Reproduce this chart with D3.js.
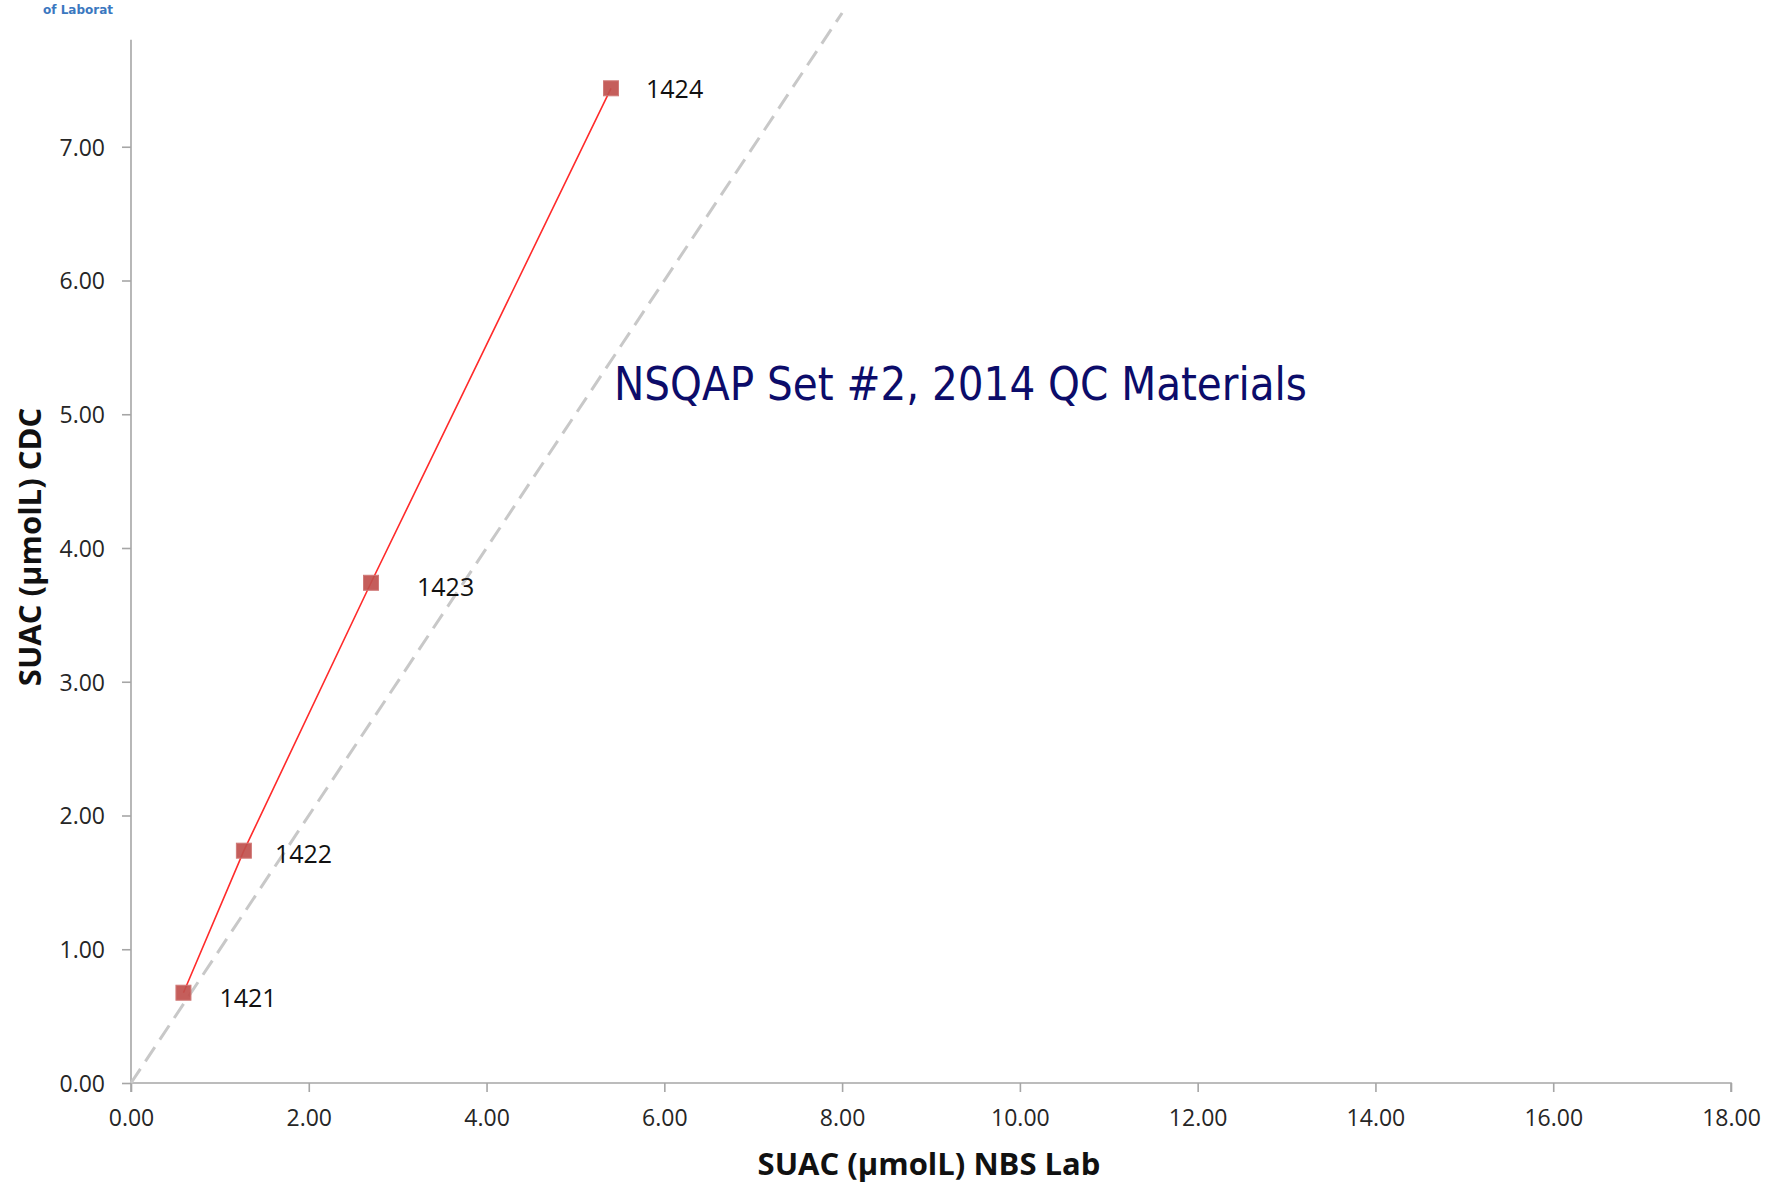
<!DOCTYPE html>
<html>
<head>
<meta charset="utf-8">
<script src="https://cdn.jsdelivr.net/npm/d3@7"></script>
<style>
  html, body { margin: 0; padding: 0; background: #fff; }
  svg { display: block; }
</style>
</head>
<body>
<svg id="chart" width="1785" height="1185"></svg>
<script>
// QC material identifiers and their SUAC results (µmol/L)
const samples = ["1421", "1422", "1423", "1424"];
const nbsLab  = [0.59, 1.27, 2.70, 5.40];   // x: NBS laboratory
const cdc     = [0.675, 1.737, 3.740, 7.437]; // y: CDC

// Axis tick values
const xTicks = [0, 2, 4, 6, 8, 10, 12, 14, 16, 18];
const yTicks = [0, 1, 2, 3, 4, 5, 6, 7];

// Line of identity (y = x)
const identity = [0, 8];

(function draw() {
  const svg = d3.select("#chart");
  const plotLeft = 131, plotRight = 1731, plotBottom = 1083, plotTop = 13;

  const x = d3.scaleLinear().domain([0, 18]).range([plotLeft, plotRight]);
  const y = d3.scaleLinear().domain([0, 8]).range([plotBottom, plotTop]);

  const axisColor = "#a6a6a6";
  const tickFont = "'Open Sans', 'Noto Sans', sans-serif";

  // Logo wording at the top left corner
  svg.append("text")
    .attr("x", 78).attr("y", 14)
    .attr("text-anchor", "middle")
    .attr("font-family", "'DejaVu Sans', sans-serif")
    .attr("font-weight", "bold")
    .attr("font-size", 12)
    .attr("fill", "#3b78c0")
    .text("of Laborat");

  // X axis
  const xAxis = d3.axisBottom(x).tickValues(xTicks).tickSize(9).tickFormat(d3.format(".2f"));
  const gx = svg.append("g").attr("transform", `translate(0,${plotBottom})`).call(xAxis);
  gx.select(".domain").attr("stroke", axisColor).attr("stroke-width", 1.6)
    .attr("d", `M${plotLeft},9V0H${plotRight}V9`);
  gx.selectAll(".tick line").attr("stroke", axisColor).attr("stroke-width", 1.6);
  gx.selectAll(".tick text")
    .attr("y", 27).attr("dy", "0.71em")
    .attr("font-family", tickFont).attr("font-size", 23).attr("fill", "#262626");

  // Y axis (visible portion stops a little below the top of the frame)
  const yAxisTop = 7.8;
  const yAxis = d3.axisLeft(y).tickValues(yTicks).tickSize(9).tickFormat(d3.format(".2f"));
  const gy = svg.append("g").attr("transform", `translate(${plotLeft},0)`).call(yAxis);
  gy.select(".domain").attr("stroke", axisColor).attr("stroke-width", 1.6)
    .attr("d", `M0,${y(yAxisTop)}V${y(0)}`);
  gy.selectAll(".tick line").attr("stroke", axisColor).attr("stroke-width", 1.6);
  gy.selectAll(".tick text")
    .attr("x", -26).attr("dy", "0.36em")
    .attr("font-family", tickFont).attr("font-size", 23).attr("fill", "#262626");

  // Dashed identity line
  svg.append("line")
    .attr("x1", x(identity[0])).attr("y1", y(identity[0]))
    .attr("x2", x(identity[1])).attr("y2", y(identity[1]))
    .attr("stroke", "#c8c8c8").attr("stroke-width", 3)
    .attr("stroke-dasharray", "17,9");

  // Series line connecting the QC results
  const pts = samples.map((s, i) => ({ s, x: nbsLab[i], y: cdc[i] }));
  svg.append("path")
    .datum(pts)
    .attr("fill", "none")
    .attr("stroke", "#ff2b2b")
    .attr("stroke-width", 1.6)
    .attr("d", d3.line().x(d => x(d.x)).y(d => y(d.y)));

  // Square markers
  const m = 15;
  svg.selectAll("rect.pt").data(pts).enter().append("rect")
    .attr("class", "pt")
    .attr("x", d => x(d.x) - m / 2).attr("y", d => y(d.y) - m / 2)
    .attr("width", m).attr("height", m)
    .attr("fill", "#c0504d").attr("fill-opacity", 0.92)
    .attr("stroke", "#d07a78").attr("stroke-width", 1);

  // Data labels to the right of each marker
  const labelShift = { "1421": [36, 14], "1422": [31, 12], "1423": [46, 13], "1424": [35, 10] };
  svg.selectAll("text.lbl").data(pts).enter().append("text")
    .attr("class", "lbl")
    .attr("x", d => x(d.x) + labelShift[d.s][0])
    .attr("y", d => y(d.y) + labelShift[d.s][1])
    .attr("font-family", tickFont).attr("font-size", 25).attr("fill", "#111")
    .text(d => d.s);

  // Chart annotation
  svg.append("text")
    .attr("x", 614).attr("y", 400)
    .attr("font-family", "'DejaVu Sans Condensed', 'DejaVu Sans', sans-serif")
    .attr("font-stretch", "condensed")
    .attr("font-size", 47)
    .attr("fill", "#0c0c6a")
    .attr("textLength", 693).attr("lengthAdjust", "spacingAndGlyphs")
    .text("NSQAP Set #2, 2014 QC Materials");

  // Axis titles
  svg.append("text")
    .attr("x", 929).attr("y", 1175)
    .attr("text-anchor", "middle")
    .attr("font-family", tickFont).attr("font-weight", "bold").attr("font-size", 31)
    .attr("fill", "#111")
    .text("SUAC (µmolL) NBS Lab");

  svg.append("text")
    .attr("transform", "translate(41,547) rotate(-90)")
    .attr("text-anchor", "middle")
    .attr("font-family", tickFont).attr("font-weight", "bold").attr("font-size", 31)
    .attr("fill", "#111")
    .text("SUAC (µmolL) CDC");
})();
</script>
</body>
</html>
